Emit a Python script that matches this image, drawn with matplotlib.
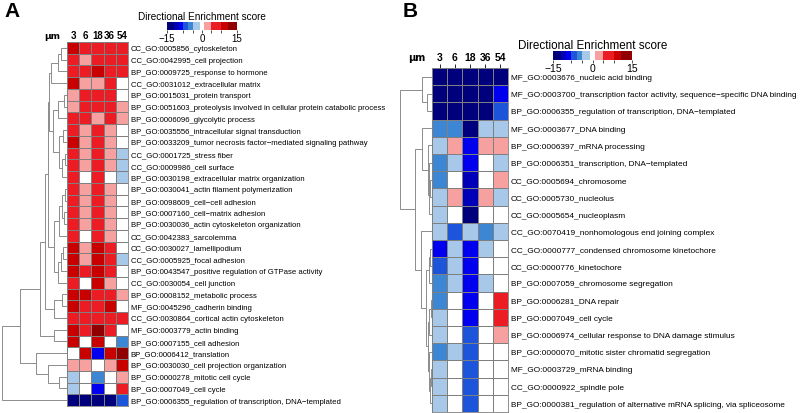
import matplotlib
matplotlib.use("Agg")
from matplotlib import pyplot as plt
from matplotlib.colors import ListedColormap, BoundaryNorm
import numpy as np

plt.rcParams['font.family'] = ['Liberation Sans', 'DejaVu Sans']

# colour levels used in the cells
NV, DB, BB, RB, MB, LB, W, PK, RD, DR, DK = -13, -11, -9, -7, -5, -2.5, 0, 2.5, 6, 9.5, 13

cols = ['3', '6', '18', '36', '54']

terms_a = [
    'CC_GO:0005856_cytoskeleton', 'CC_GO:0042995_cell projection',
    'BP_GO:0009725_response to hormone', 'CC_GO:0031012_extracellular matrix',
    'BP_GO:0015031_protein transport',
    'BP_GO:0051603_proteolysis involved in cellular protein catabolic process',
    'BP_GO:0006096_glycolytic process', 'BP_GO:0035556_intracellular signal transduction',
    'BP_GO:0033209_tumor necrosis factor\u2212mediated signaling pathway',
    'CC_GO:0001725_stress fiber', 'CC_GO:0009986_cell surface',
    'BP_GO:0030198_extracellular matrix organization',
    'BP_GO:0030041_actin filament polymerization', 'BP_GO:0098609_cell\u2212cell adhesion',
    'BP_GO:0007160_cell\u2212matrix adhesion', 'BP_GO:0030036_actin cytoskeleton organization',
    'CC_GO:0042383_sarcolemma', 'CC_GO:0030027_lamellipodium', 'CC_GO:0005925_focal adhesion',
    'BP_GO:0043547_positive regulation of GTPase activity', 'CC_GO:0030054_cell junction',
    'BP_GO:0008152_metabolic process', 'MF_GO:0045296_cadherin binding',
    'CC_GO:0030864_cortical actin cytoskeleton', 'MF_GO:0003779_actin binding',
    'BP_GO:0007155_cell adhesion', 'BP_GO:0006412_translation',
    'BP_GO:0030030_cell projection organization', 'BP_GO:0000278_mitotic cell cycle',
    'BP_GO:0007049_cell cycle', 'BP_GO:0006355_regulation of transcription, DNA\u2212templated',
]

scores_a = [
    [DR, RD, RD, RD, RD],
    [RD, PK, RD, RD, RD],
    [RD, RD, DR, RD, RD],
    [DR, PK, PK, RD, W],
    [PK, RD, RD, RD, W],
    [PK, RD, RD, RD, PK],
    [RD, RD, PK, RD, PK],
    [RD, PK, RD, PK, W],
    [DR, PK, RD, PK, W],
    [RD, PK, RD, PK, LB],
    [RD, PK, RD, PK, LB],
    [RD, W, RD, W, LB],
    [RD, PK, RD, PK, W],
    [RD, PK, RD, PK, W],
    [RD, PK, RD, PK, W],
    [RD, PK, RD, PK, W],
    [RD, W, RD, PK, W],
    [DR, PK, DR, RD, W],
    [DR, PK, DR, RD, LB],
    [DR, RD, DR, RD, W],
    [RD, W, DR, PK, W],
    [DR, DR, RD, RD, PK],
    [DR, RD, RD, DR, W],
    [RD, RD, RD, RD, RD],
    [DR, RD, DK, RD, W],
    [DR, W, DR, W, MB],
    [W, DR, BB, DR, DK],
    [PK, PK, W, PK, DR],
    [LB, W, MB, W, PK],
    [LB, W, BB, W, RD],
    [NV, NV, NV, NV, RB],
]

# merges: (left, right, height); ids >= n refer to earlier merges
merges_a = [
    (0, 1, 0.09), (31, 2, 0.14), (32, 3, 0.25),
    (4, 5, 0.05), (34, 6, 0.14),
    (7, 8, 0.06), (9, 10, 0.03), (37, 11, 0.08), (36, 38, 0.12),
    (35, 39, 0.22), (33, 40, 0.27),
    (12, 13, 0.03), (14, 15, 0.04), (42, 43, 0.08), (44, 16, 0.12),
    (17, 18, 0.06), (46, 19, 0.10), (47, 20, 0.14), (45, 48, 0.20),
    (41, 49, 0.30),
    (21, 22, 0.08), (51, 23, 0.20), (50, 52, 0.34),
    (24, 25, 0.20), (53, 54, 0.42),
    (28, 29, 0.125), (27, 56, 0.30), (26, 57, 0.48),
    (55, 58, 0.72), (59, 30, 1.0),
]

terms_b = [
    'MF_GO:0003676_nucleic acid binding',
    'MF_GO:0003700_transcription factor activity, sequence\u2212specific DNA binding',
    'BP_GO:0006355_regulation of transcription, DNA\u2212templated',
    'MF_GO:0003677_DNA binding', 'BP_GO:0006397_mRNA processing',
    'BP_GO:0006351_transcription, DNA\u2212templated', 'CC_GO:0005694_chromosome',
    'CC_GO:0005730_nucleolus', 'CC_GO:0005654_nucleoplasm',
    'CC_GO:0070419_nonhomologous end joining complex',
    'CC_GO:0000777_condensed chromosome kinetochore', 'CC_GO:0000776_kinetochore',
    'BP_GO:0007059_chromosome segregation', 'BP_GO:0006281_DNA repair',
    'BP_GO:0007049_cell cycle', 'BP_GO:0006974_cellular response to DNA damage stimulus',
    'BP_GO:0000070_mitotic sister chromatid segregation', 'MF_GO:0003729_mRNA binding',
    'CC_GO:0000922_spindle pole',
    'BP_GO:0000381_regulation of alternative mRNA splicing, via spliceosome',
]

scores_b = [
    [NV, NV, NV, NV, NV],
    [NV, NV, NV, NV, BB],
    [NV, NV, NV, NV, RB],
    [MB, MB, NV, LB, LB],
    [LB, PK, BB, PK, PK],
    [MB, LB, BB, W, LB],
    [MB, W, DB, W, PK],
    [LB, PK, DB, PK, LB],
    [LB, W, NV, W, W],
    [LB, RB, LB, MB, LB],
    [BB, LB, BB, LB, W],
    [RB, LB, BB, W, W],
    [MB, LB, BB, LB, W],
    [MB, W, BB, W, RD],
    [LB, W, BB, W, RD],
    [LB, W, RB, W, PK],
    [MB, LB, RB, W, W],
    [LB, W, RB, W, W],
    [LB, W, RB, W, W],
    [LB, W, RB, W, W],
]

merges_b = [
    (1, 2, 0.16), (0, 20, 0.31),
    (6, 7, 0.05), (5, 22, 0.08), (23, 8, 0.10), (4, 24, 0.14), (3, 25, 0.31),
    (10, 11, 0.06), (27, 12, 0.10), (13, 14, 0.04), (29, 15, 0.08),
    (17, 18, 0.03), (31, 19, 0.05), (16, 32, 0.09), (30, 33, 0.14),
    (28, 34, 0.20), (9, 35, 0.34), (26, 36, 0.53), (21, 37, 1.0),
]

bounds = [-15, -12, -10, -8, -6, -4, -1, 1, 4, 8, 11, 15]
colours = ['#00007c', '#0000b8', '#0000ee', '#1c55da', '#3d86d4', '#a8c8ea',
           '#ffffff', '#f7a0a0', '#ec1c24', '#c80000', '#900000']
cmap = ListedColormap(colours)
norm = BoundaryNorm(bounds, cmap.N)

W_PX, H_PX = 800, 414
fig = plt.figure(figsize=(W_PX / 100, H_PX / 100), dpi=100)


def px_axes(x0, y0, x1, y1):
    return fig.add_axes([x0 / W_PX, 1 - y1 / H_PX, (x1 - x0) / W_PX, (y1 - y0) / H_PX])


def heatmap(box, data, labels, fs, col_fs, tick_len):
    ax = px_axes(*box)
    data = np.array(data)
    ax.pcolormesh(data, cmap=cmap, norm=norm, edgecolors='#7f7f7f', linewidth=0.5)
    ax.set_xlim(0, data.shape[1])
    ax.set_ylim(data.shape[0], 0)
    ax.set_xticks(np.arange(data.shape[1]) + 0.5)
    ax.set_xticklabels(cols, fontsize=col_fs, fontweight='bold')
    ax.xaxis.tick_top()
    ax.tick_params(axis='x', length=tick_len, width=0.6, pad=1.5)
    ax.yaxis.tick_right()
    ax.set_yticks(np.arange(data.shape[0]) + 0.5)
    ax.set_yticklabels(labels, fontsize=fs)
    ax.tick_params(axis='y', length=0, pad=2)
    for s in ax.spines.values():
        s.set_color('#7f7f7f')
        s.set_linewidth(0.6)
    ax.annotate('\u03bcm', xy=(0, 1), xycoords='axes fraction',
                xytext=(-5, 1.5 + tick_len), textcoords='offset points',
                ha='right', va='bottom', fontsize=col_fs - 0.5, fontweight='bold',
                family=['DejaVu Sans'])
    return ax


def dendrogram(box, merges, n):
    ax = px_axes(*box)
    pos = list(np.arange(n) + 0.5)
    hts = [0.0] * n
    for a, b, h in merges:
        ax.plot([hts[a], h, h, hts[b]], [pos[a], pos[a], pos[b], pos[b]],
                color='#8c8c8c', lw=0.7, clip_on=False, solid_joinstyle='miter')
        pos.append((pos[a] + pos[b]) / 2)
        hts.append(h)
    ax.set_xlim(1.0, 0)
    ax.set_ylim(n, 0)
    ax.axis('off')


def colourbar(box, title_fs, tick_fs):
    ax = px_axes(*box)
    cb = fig.colorbar(plt.cm.ScalarMappable(norm=norm, cmap=cmap), cax=ax,
                      orientation='horizontal', spacing='proportional')
    cb.outline.set_visible(False)
    cb.set_ticks([-15, 0, 15])
    cb.ax.tick_params(labelsize=tick_fs, length=2.5, width=0.6, pad=0, color='#333333')
    cb.ax.set_xticks([-8, -4, 4, 8], minor=True)
    cb.ax.tick_params(which='minor', length=2, width=0.6, color='#333333')
    cb.ax.set_title('Directional Enrichment score', fontsize=title_fs, pad=2)


# panel A
dendrogram((2, 43, 67, 407), merges_a, len(terms_a))
heatmap((67, 43, 128, 407), scores_a, terms_a, 5.55, 7, 0)
colourbar((167, 23, 237, 31), 7.2, 7)

# panel B
dendrogram((400, 69, 432, 413), merges_b, len(terms_b))
heatmap((432, 69, 508, 413), scores_b, terms_b, 5.95, 7.5, 3)
colourbar((553, 52, 632, 61), 8.4, 7.5)

fig.text(4 / W_PX, 1 - 2 / H_PX, 'A', fontsize=15, fontweight='bold', va='top')
fig.text(403 / W_PX, 1 - 2 / H_PX, 'B', fontsize=15, fontweight='bold', va='top')

fig.savefig('out.png', dpi=100)
